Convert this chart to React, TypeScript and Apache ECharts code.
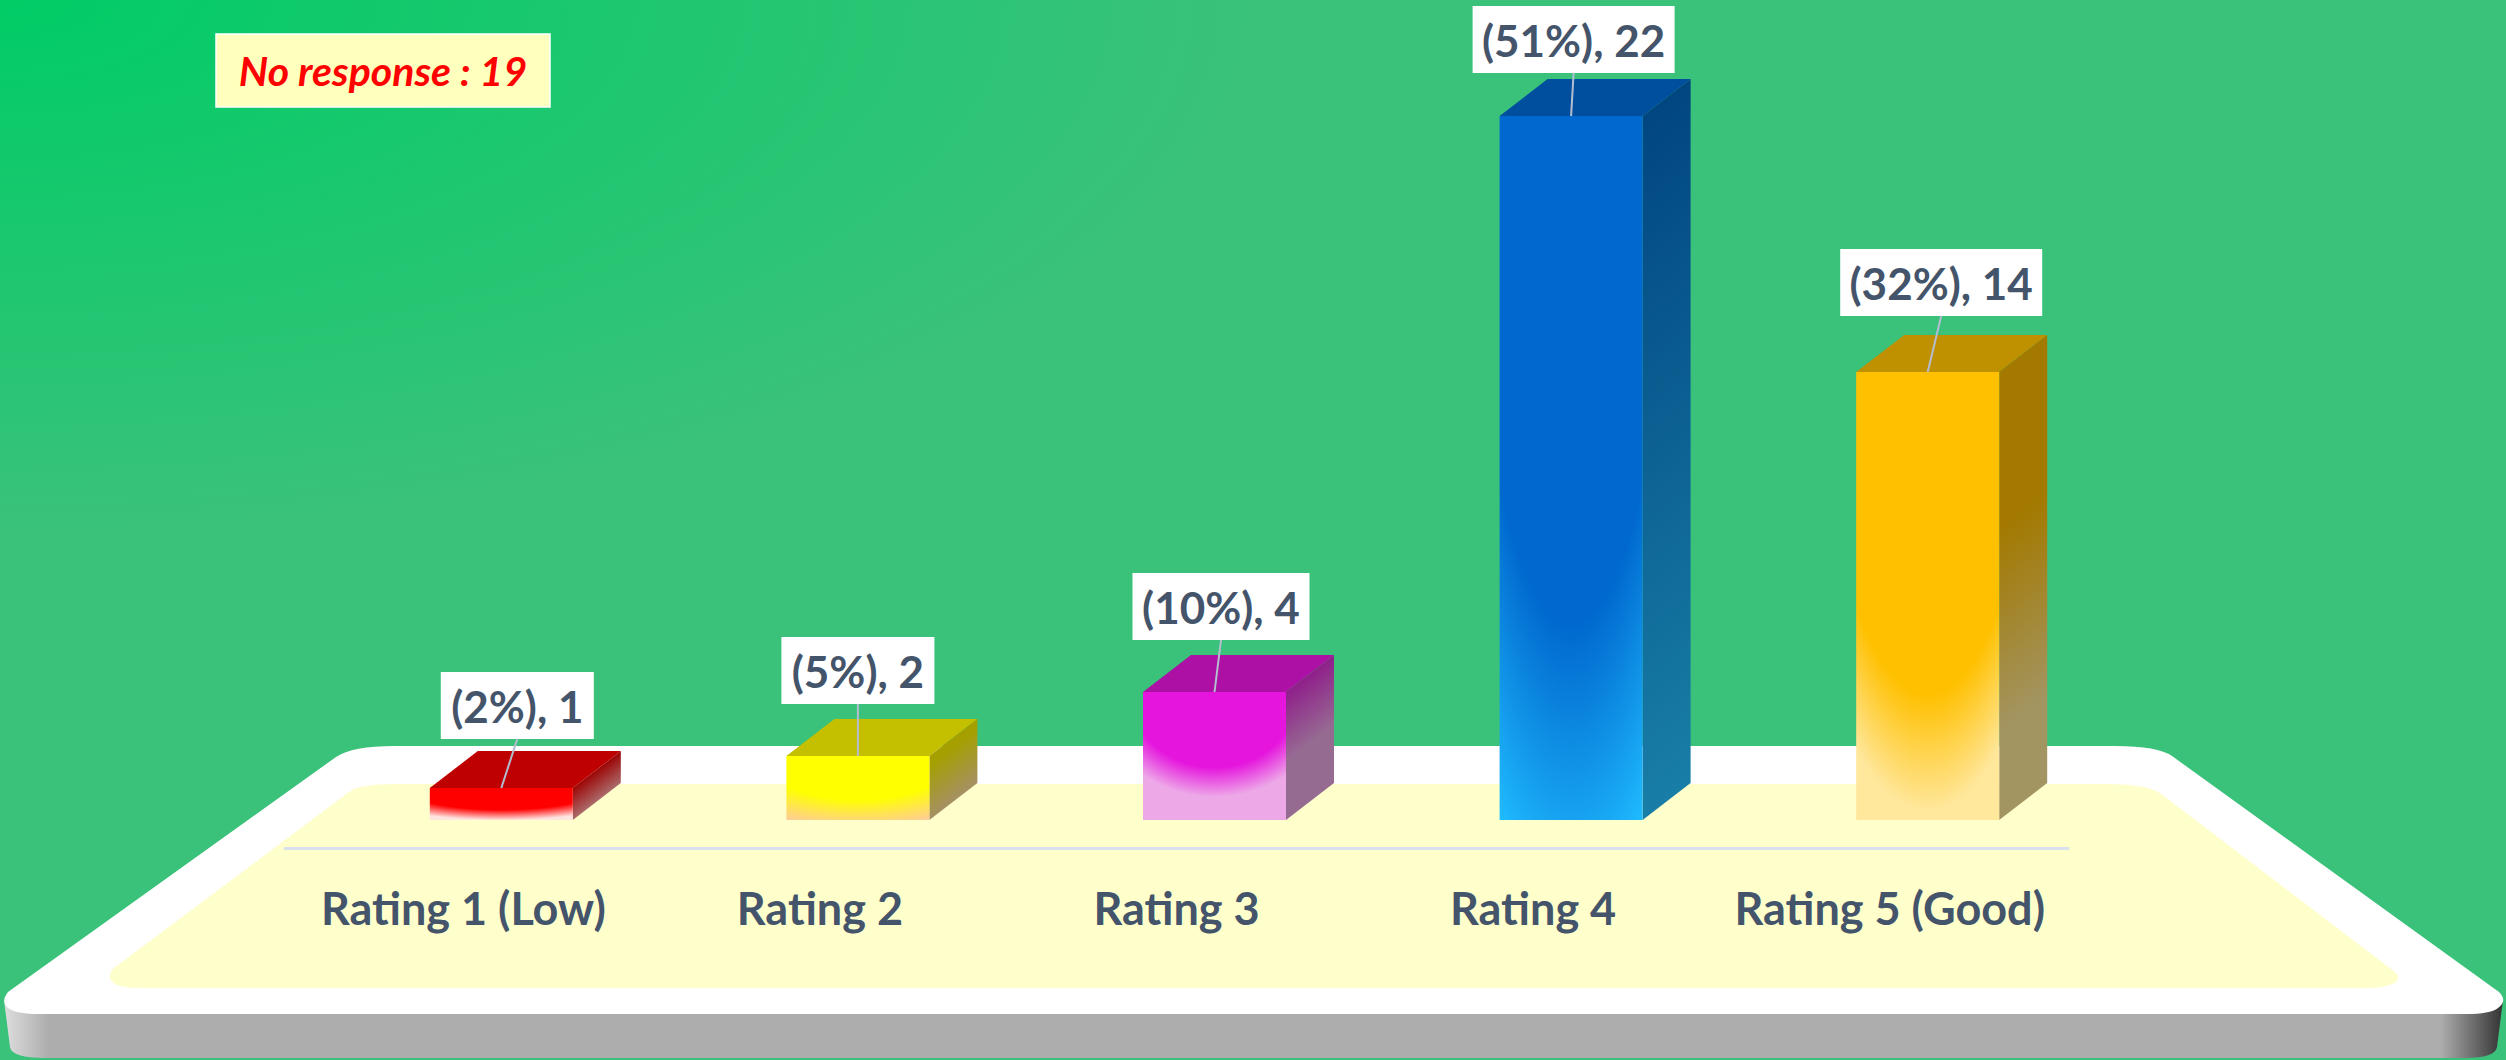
import React, { useEffect, useRef } from "react";
import * as echarts from "echarts";

// ---- data
const categories = ["Rating 1 (Low)", "Rating 2", "Rating 3", "Rating 4", "Rating 5 (Good)"];
const responses = [1, 2, 4, 22, 14];
const percents = [2, 5, 10, 51, 32];
const noResponseText = "No response : 19";

// ---- per-bar colours
const frontColors = ["#FF0000", "#FFFF00", "#E515DD", "#0068CE", "#FFC000"];
const fadeColors = ["#FFE4E0", "#FFCB9C", "#EDA8E8", "#20BCFF", "#FFE79C"];
const topColors = ["#BF0000", "#C4C000", "#AC10A4", "#004F9E", "#BF9000"];
const sideStartColors = ["#9C0000", "#A5A000", "#8E1389", "#00437F", "#A37900"];
const sideEndColors = ["#B4A8A8", "#A58C7C", "#966B92", "#187EA7", "#A39562"];
const solidStops = [0.68, 0.68, 0.59, 0.72, 0.72];
const fadeStops = [1.0, 1.12, 0.82, 1.12, 0.98];
const sideSolidStops = [0.4, 0.4, 0.15, 0, 0.4];
const sideFadeStops = [1, 1, 0.62, 1, 0.82];

// ---- label layout
const labelWidths = [153, 153, 177, 202, 202];
const labelShiftX = [16, 0, 6.5, 2.5, 13.5];
const labelGap = [49, 52, 52, 43, 56];

const TEXT_COLOR = "#44546A";
const FONT = "Lato";
const BAR_W = 143;
const DEPTH_X = 48;
const DEPTH_Y = 37;
const SHIFT_X = 38;
const SHIFT_Y = -28;
const LABEL_H = 67;

const WHITE_D =
  "M336 757 Q352 746 395 746 L2115 746 Q2158 746 2172 756 L2499 992 Q2508 1001 2498 1008 Q2490 1014 2466 1014 L38 1014 Q14 1014 7 1007 Q1 1001 8 992 Z";
const SIDE_D = "M4 1000 L10 1047 Q12 1058 45 1058 L2465 1058 Q2495 1058 2497 1047 L2503 1000 Z";
const CREAM_D =
  "M349 792 Q358 784 395 784 L2106 784 Q2145 784 2160 793 L2395 972 Q2405 982 2385 986 Q2378 988 2367 988 L140 988 Q112 988 110 978 Q109 973 114 968 Z";

echarts.graphic.registerShape("deckTop", echarts.graphic.extendPath(WHITE_D, {}));
echarts.graphic.registerShape("deckSide", echarts.graphic.extendPath(SIDE_D, {}));
echarts.graphic.registerShape("deckInner", echarts.graphic.extendPath(CREAM_D, {}));

function renderBar(params: any, api: any) {
  const i = api.value(0);
  const top = api.coord([i, api.value(1)]);
  const base = api.coord([i, 0]);
  const cx = top[0] + SHIFT_X;
  const x0 = cx - BAR_W / 2;
  const x1 = cx + BAR_W / 2;
  const yT = top[1] + SHIFT_Y;
  const yB = base[1] + SHIFT_Y;
  const boxW = labelWidths[i];
  const boxCx = cx + labelShiftX[i];
  const boxBottom = yT - labelGap[i];
  const boxTop = boxBottom - LABEL_H;
  const slant = DEPTH_Y / (yB - yT + DEPTH_Y);
  return {
    type: "group",
    children: [
      {
        type: "polygon",
        shape: { points: [[x0, yT], [x1, yT], [x1 + DEPTH_X, yT - DEPTH_Y], [x0 + DEPTH_X, yT - DEPTH_Y]] },
        style: { fill: topColors[i] },
      },
      {
        type: "polygon",
        shape: { points: [[x1, yT], [x1 + DEPTH_X, yT - DEPTH_Y], [x1 + DEPTH_X, yB - DEPTH_Y], [x1, yB]] },
        style: {
          fill: new echarts.graphic.LinearGradient(0, 0, slant, 1, [
            { offset: 0, color: sideStartColors[i] },
            { offset: sideSolidStops[i], color: sideStartColors[i] },
            { offset: sideFadeStops[i], color: sideEndColors[i] },
            { offset: 1, color: sideEndColors[i] },
          ]),
        },
      },
      {
        type: "rect",
        shape: { x: x0, y: yT, width: BAR_W, height: yB - yT },
        style: {
          fill: new echarts.graphic.RadialGradient(0.5, 0, fadeStops[i], [
            { offset: 0, color: frontColors[i] },
            { offset: solidStops[i] / fadeStops[i], color: frontColors[i] },
            { offset: 1, color: fadeColors[i] },
          ]),
        },
      },
      {
        type: "line",
        shape: { x1: cx, y1: yT, x2: boxCx, y2: boxBottom },
        style: { stroke: "#B4BDD0", lineWidth: 2 },
      },
      {
        type: "rect",
        shape: { x: boxCx - boxW / 2, y: boxTop, width: boxW, height: LABEL_H },
        style: { fill: "#FFFFFF" },
      },
      {
        type: "text",
        style: {
          text: `(${percents[i]}%), ${responses[i]}`,
          x: boxCx,
          y: boxTop + LABEL_H / 2,
          textAlign: "center",
          textVerticalAlign: "middle",
          fill: TEXT_COLOR,
          fontFamily: FONT,
          fontWeight: "bold",
          fontSize: 44,
        },
      },
    ],
  };
}

export default function App() {
  const ref = useRef<HTMLDivElement>(null);
  useEffect(() => {
    const chart = echarts.init(ref.current!, undefined, { renderer: "svg" });
    chart.setOption({
      animation: false,
      backgroundColor: "transparent",
      graphic: {
        elements: [
          {
            type: "rect",
            z: -20,
            shape: { x: 0, y: 0, width: 2506, height: 1060 },
            style: {
              fill: new echarts.graphic.RadialGradient(0, 0, 1, [
                { offset: 0, color: "#00CC66" },
                { offset: 0.5, color: "#3AC27A" },
                { offset: 1, color: "#3AC27A" },
              ]),
            },
          },
          {
            type: "deckSide",
            z: -19,
            x: 0,
            y: 0,
            style: {
              fill: new echarts.graphic.LinearGradient(0, 0, 1, 0, [
                { offset: 0, color: "#DEDEDE" },
                { offset: 0.018, color: "#ADADAD" },
                { offset: 0.975, color: "#ADADAD" },
                { offset: 0.992, color: "#5A5A5A" },
                { offset: 1, color: "#333333" },
              ]),
            },
          },
          { type: "deckTop", z: -18, x: 0, y: 0, style: { fill: "#FFFFFF" } },
          { type: "deckInner", z: -17, x: 0, y: 0, style: { fill: "#FFFFCC" } },
          {
            type: "rect",
            z: -16,
            shape: { x: 216, y: 34, width: 334, height: 73 },
            style: { fill: "#FFFFBE", stroke: "#FFFFFF", lineWidth: 1.5 },
          },
          {
            type: "text",
            z: -15,
            style: {
              text: noResponseText,
              x: 383,
              y: 70.5,
              textAlign: "center",
              textVerticalAlign: "middle",
              fill: "#FF0000",
              fontFamily: FONT,
              fontWeight: "bold",
              fontStyle: "italic",
              fontSize: 41,
            },
          },
        ],
      },
      grid: { left: 285, width: 1783, top: 80, height: 768 },
      xAxis: {
        type: "category",
        data: categories,
        axisTick: { show: false },
        axisLine: { lineStyle: { color: "#D9E0EE", width: 3 } },
        axisLabel: {
          color: TEXT_COLOR,
          fontFamily: FONT,
          fontWeight: "bold",
          fontSize: 45,
          margin: 37,
          interval: 0,
        },
      },
      yAxis: { type: "value", min: 0, max: 24, show: false, splitLine: { show: false } },
      series: [
        {
          type: "custom",
          clip: false,
          silent: true,
          renderItem: renderBar,
          encode: { x: 0, y: 1 },
          data: responses.map((v, i) => [i, v]),
        },
      ],
    });
    return () => chart.dispose();
  }, []);
  return <div ref={ref} style={{ position: "absolute", left: 0, top: 0, width: 2506, height: 1060 }} />;
}
